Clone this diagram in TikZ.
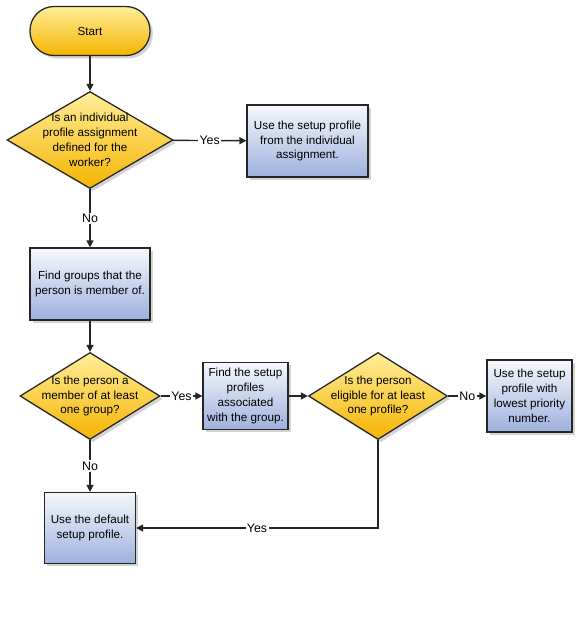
\documentclass[tikz,border=0pt]{standalone}
\usepackage{fontspec}
\setmainfont{Liberation Sans}
\usepackage{tikz}
\usetikzlibrary{shapes.geometric, arrows.meta, shadows}

\definecolor{ylwtop}{HTML}{FFEE9A}
\definecolor{ylwbot}{HTML}{F5B400}
\definecolor{blutop}{HTML}{F6F8FC}
\definecolor{blubot}{HTML}{9DB1DD}

\begin{document}
\begin{tikzpicture}[font=\fontsize{8.3}{10.6}\selectfont,
    shade/.style={drop shadow={opacity=0.35, shadow xshift=2pt, shadow yshift=-2pt}},
    terminal/.style={rectangle, rounded corners=0.6cm, draw=black!85, line width=0.9pt,
      top color=ylwtop, bottom color=ylwbot, minimum width=3cm, minimum height=1.225cm, shade},
    decision/.style={diamond, draw=black!85, line width=0.9pt, inner sep=-10pt, align=center,
      top color=ylwtop, bottom color=ylwbot, shade},
    action/.style={rectangle, draw=black!85, line width=0.9pt, align=center, inner sep=1pt,
      top color=blutop, bottom color=blubot, shade},
    flow/.style={draw=black!85, line width=1pt, -{Triangle[length=5pt, width=5pt]}},
    answer/.style={fill=white, inner sep=1pt, font=\fontsize{8.8}{10}\selectfont}]
  % page frame, 1px = 0.025cm
  \useasboundingbox (0,0) rectangle (14.4,-15.6);
  % left column
  \node[terminal] (start) at (2.25,-0.775) {Start};
  \node[decision, minimum width=4.15cm, minimum height=2.425cm] (indiv) at (2.25,-3.5)
    {Is an individual\\profile assignment\\defined for the\\worker?};
  \node[action, minimum width=3.025cm, minimum height=1.8cm] (useind) at (7.6875,-3.525)
    {Use the setup profile\\from the individual\\assignment.};
  \node[action, minimum width=3cm, minimum height=1.8cm] (groups) at (2.25,-7.1)
    {Find groups that the\\person is member of.};
  \node[decision, minimum width=3.5cm, minimum height=2.175cm] (member) at (2.25,-9.9)
    {Is the person a\\member of at least\\one group?};
  \node[action, minimum width=2.275cm, minimum height=1.775cm] (default) at (2.25,-13.2)
    {Use the default\\setup profile.};
  % middle row
  \node[action, minimum width=2.125cm, minimum height=1.675cm] (findprof) at (6.1375,-9.9)
    {Find the setup\\profiles\\associated\\with the group.};
  \node[decision, minimum width=3.475cm, minimum height=2.175cm] (eligible) at (9.45,-9.9)
    {Is the person\\eligible for at least\\one profile?};
  \node[action, minimum width=2.125cm, minimum height=1.8cm] (lowest) at (13.2375,-9.9)
    {Use the setup\\profile with\\lowest priority\\number.};
  % connectors
  \draw[flow] (start) -- (indiv);
  \draw[flow] (indiv) -- node[answer] {Yes} (useind);
  \draw[flow] (indiv) -- node[answer] {No} (groups);
  \draw[flow] (groups) -- (member);
  \draw[flow] (member) -- node[answer] {Yes} (findprof);
  \draw[flow] (member) -- node[answer] {No} (default);
  \draw[flow] (findprof) -- (eligible);
  \draw[flow] (eligible) -- node[answer] {No} (lowest);
  \draw[flow] (eligible.south) |- node[answer, pos=0.75] {Yes} (default.east);
\end{tikzpicture}
\end{document}
